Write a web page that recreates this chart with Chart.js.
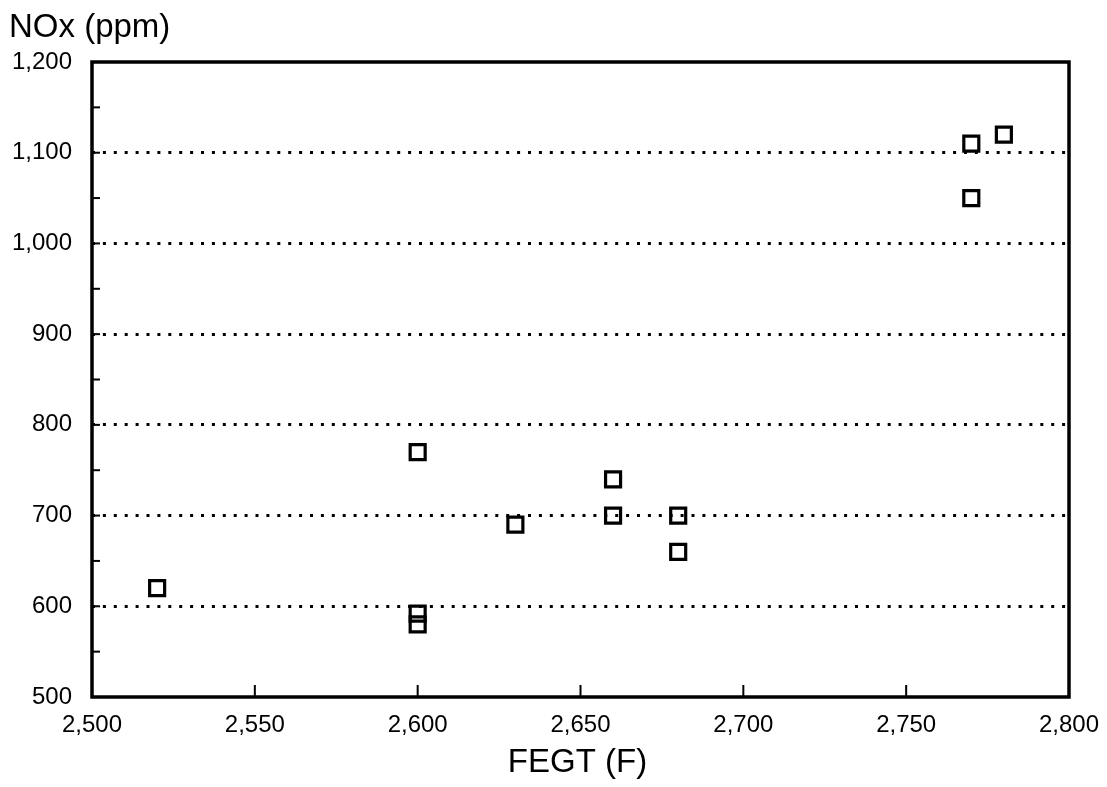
<!DOCTYPE html>
<html>
<head>
<meta charset="utf-8">
<script src="https://cdn.jsdelivr.net/npm/chart.js@4"></script>
<style>
  body { margin: 0; background: #fff; }
</style>
</head>
<body>
<canvas id="noxChart" width="1107" height="787"></canvas>
<script>
// FEGT vs NOx readings
const fegt = [2520, 2600, 2600, 2600, 2630, 2660, 2660, 2680, 2680, 2770, 2770, 2780];
const nox  = [620, 770, 592, 580, 690, 740, 700, 700, 660, 1110, 1050, 1120];

const yTitle = 'NOx (ppm)';
const xTitle = 'FEGT (F)';

const points = fegt.map((x, i) => ({ x: x, y: nox[i] }));

const fontFamily = '"Liberation Sans", Arial, Helvetica, sans-serif';

// Frame, inward tick marks and the two axis titles
const framePlugin = {
    id: 'frame',
    afterDraw(chart) {
        const { ctx, chartArea: a, scales } = chart;
        ctx.save();
        ctx.strokeStyle = '#000';
        ctx.lineWidth = 2;
        // small inward ticks on the left axis
        for (let v = 500; v <= 1200; v += 50) {
            const y = scales.y.getPixelForValue(v);
            ctx.beginPath();
            ctx.moveTo(a.left, y);
            ctx.lineTo(a.left + 8, y);
            ctx.stroke();
        }
        // inward ticks on the bottom axis
        for (let v = 2550; v <= 2800; v += 50) {
            const x = scales.x.getPixelForValue(v);
            ctx.beginPath();
            ctx.moveTo(x, a.bottom);
            ctx.lineTo(x, a.bottom - 12);
            ctx.stroke();
        }
        ctx.lineWidth = 3.5;
        ctx.strokeRect(a.left, a.top, a.right - a.left, a.bottom - a.top);

        ctx.fillStyle = '#000';
        ctx.font = '33px ' + fontFamily;
        ctx.textBaseline = 'alphabetic';
        ctx.textAlign = 'left';
        ctx.fillText(yTitle, 9, 37);
        ctx.textAlign = 'center';
        ctx.fillText(xTitle, (a.left + a.right) / 2 - 3, 772);
        ctx.restore();
    }
};

new Chart(document.getElementById('noxChart'), {
    type: 'scatter',
    data: {
        datasets: [{
            data: points,
            pointStyle: 'rect',
            pointRadius: 10.6,
            pointHoverRadius: 10.6,
            pointBorderColor: '#000',
            pointBorderWidth: 3.2,
            pointHoverBorderWidth: 3.2,
            pointBackgroundColor: 'rgba(0,0,0,0)'
        }]
    },
    options: {
        responsive: false,
        animation: false,
        layout: { padding: { top: 62, right: 38, left: 0, bottom: 0 } },
        plugins: {
            legend: { display: false },
            tooltip: { enabled: false }
        },
        scales: {
            x: {
                type: 'linear',
                min: 2500,
                max: 2800,
                afterFit: (scale) => { scale.height = 90; },
                grid: { display: false },
                border: { display: false },
                ticks: {
                    stepSize: 50,
                    padding: 6,
                    color: '#000',
                    font: { family: fontFamily, size: 24 },
                    callback: (v) => v.toLocaleString('en')
                }
            },
            y: {
                type: 'linear',
                min: 500,
                max: 1200,
                afterFit: (scale) => { scale.width = 92; },
                border: { display: false, dash: [3, 7.9] },
                grid: {
                    drawTicks: false,
                    lineWidth: 3,
                    color: (c) => {
                        const v = c.tick.value;
                        return (v % 100 === 0 && v > 500 && v < 1200) ? '#000' : 'rgba(0,0,0,0)';
                    }
                },
                ticks: {
                    stepSize: 50,
                    padding: 20,
                    color: '#000',
                    font: { family: fontFamily, size: 24 },
                    callback: (v) => (v % 100 === 0 ? v.toLocaleString('en') : '')
                }
            }
        }
    },
    plugins: [framePlugin]
});
</script>
</body>
</html>
